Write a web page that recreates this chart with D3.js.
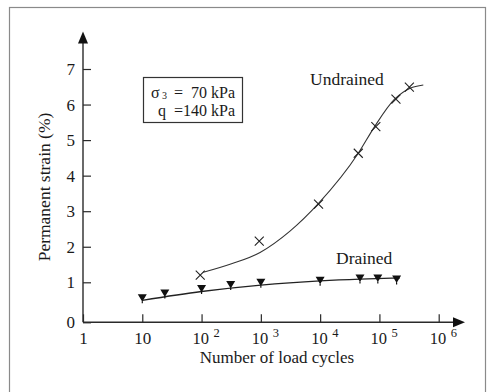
<!DOCTYPE html>
<html>
<head>
<meta charset="utf-8">
<script src="https://cdn.jsdelivr.net/npm/d3@7/dist/d3.min.js"></script>
<style>
  html, body { margin: 0; padding: 0; background: #fff; }
  svg { display: block; }
  text { font-family: "Liberation Serif", "Times New Roman", serif; fill: #1a1a1a; }
</style>
</head>
<body>
<svg id="chart" width="487" height="392"></svg>
<script>
// Permanent strain vs. number of load cycles, drained and undrained tests
const xTickValues = [1, 10, 1e2, 1e3, 1e4, 1e5, 1e6];
const xTickExponents = [null, null, 2, 3, 4, 5, 6];
const yTickValues = [0, 1, 2, 3, 4, 5, 6, 7];

// Undrained test: measured points
const undrainedCycles = [95, 940, 9400, 44000, 87000, 190000, 320000];
const undrainedStrain = [1.2, 2.16, 3.2, 4.63, 5.38, 6.15, 6.49];
// Undrained test: fitted trend
const undrainedFitCycles = [107, 320, 970, 3100, 9400, 44000, 83000, 180000, 330000, 550000];
const undrainedFitStrain = [1.28, 1.52, 1.84, 2.44, 3.22, 4.63, 5.38, 6.15, 6.46, 6.55];

// Drained test: measured points
const drainedCycles = [10, 24, 100, 310, 1000, 10000, 47000, 94000, 195000];
const drainedStrain = [0.6, 0.72, 0.83, 0.93, 0.99, 1.045, 1.11, 1.11, 1.08];
// Drained test: fitted trend
const drainedFitCycles = [10, 100, 1000, 10000, 47000, 220000];
const drainedFitStrain = [0.55, 0.77, 0.93, 1.04, 1.09, 1.12];

const svg = d3.select("#chart");

// outer frame
svg.append("rect")
  .attr("x", 9.5).attr("y", 7.5)
  .attr("width", 476).attr("height", 400)
  .attr("fill", "none").attr("stroke", "#8a8a8a").attr("stroke-width", 1.2);

const x = d3.scaleLog().domain([1, 1e6]).range([83, 438.7]);
const y = d3.scaleLinear().domain([0, 1, 7]).range([322.3, 282.3, 69]);

const axisColor = "#2a2a2a";

// y axis
const yAxis = svg.append("g")
  .attr("transform", `translate(${x(1)},0)`)
  .call(d3.axisLeft(y).tickValues(yTickValues).tickSizeInner(-8).tickSizeOuter(0).tickPadding(8).tickFormat(d3.format("d")));
yAxis.select(".domain").remove();
yAxis.selectAll(".tick line").attr("stroke", axisColor).attr("stroke-width", 1.2);
yAxis.selectAll(".tick text")
  .attr("font-size", 17).attr("font-family", "Liberation Serif").attr("fill", "#1a1a1a");

// x axis: ticks only, labels are built below so powers of ten get raised exponents
const xAxis = svg.append("g")
  .attr("transform", `translate(0,${y(0)})`)
  .call(d3.axisBottom(x).tickValues(xTickValues).tickSizeInner(-8).tickSizeOuter(0).tickPadding(0).tickFormat(() => ""));
xAxis.select(".domain").remove();
xAxis.selectAll(".tick line").attr("stroke", axisColor).attr("stroke-width", 1.2);
xAxis.selectAll(".tick text").remove();
xAxis.selectAll(".tick").each(function(d, i) {
  const g = d3.select(this);
  const e = xTickExponents[i];
  if (e === null) {
    g.append("text").attr("y", 22).attr("text-anchor", "middle")
      .attr("font-size", 17).text(d === 1 ? "1" : "10");
  } else {
    g.append("text").attr("x", -9.5).attr("y", 22).attr("text-anchor", "start")
      .attr("font-size", 16.5).text("10");
    g.append("text").attr("x", 11.5).attr("y", 15).attr("text-anchor", "start")
      .attr("font-size", 12.5).text(String(e));
  }
});

// axis lines with arrow heads
svg.append("line")
  .attr("x1", x(1)).attr("y1", y(0)).attr("x2", x(1)).attr("y2", 36)
  .attr("stroke", axisColor).attr("stroke-width", 1.4);
svg.append("path")
  .attr("d", `M${x(1)},31.5 L${x(1) - 5},43.5 L${x(1) + 5},43.5 Z`)
  .attr("fill", "#111");
svg.append("line")
  .attr("x1", x(1)).attr("y1", y(0)).attr("x2", 460).attr("y2", y(0))
  .attr("stroke", axisColor).attr("stroke-width", 1.4);
svg.append("path")
  .attr("d", `M465,${y(0)} L453,${y(0) - 5} L453,${y(0) + 5} Z`)
  .attr("fill", "#111");

// axis titles
svg.append("text")
  .attr("x", 277).attr("y", 363)
  .attr("text-anchor", "middle").attr("font-size", 17)
  .text("Number of load cycles");
svg.append("text")
  .attr("transform", "translate(50,187) rotate(-90)")
  .attr("text-anchor", "middle").attr("font-size", 17.5)
  .text("Permanent strain (%)");

// fitted curves
const line = d3.line().curve(d3.curveMonotoneX).x(d => x(d[0])).y(d => y(d[1]));
svg.append("path")
  .datum(undrainedFitCycles.map((c, i) => [c, undrainedFitStrain[i]]))
  .attr("d", line).attr("fill", "none").attr("stroke", "#333").attr("stroke-width", 1.1);
svg.append("path")
  .datum(drainedFitCycles.map((c, i) => [c, drainedFitStrain[i]]))
  .attr("d", line).attr("fill", "none").attr("stroke", "#222").attr("stroke-width", 1.3);

// undrained markers (crosses)
svg.append("g").selectAll("path")
  .data(undrainedCycles.map((c, i) => [c, undrainedStrain[i]]))
  .join("path")
  .attr("transform", d => `translate(${x(d[0])},${y(d[1])})`)
  .attr("d", "M-4.5,-4.5 L4.5,4.5 M-4.5,4.5 L4.5,-4.5")
  .attr("stroke", "#222").attr("stroke-width", 1.1).attr("fill", "none");

// drained markers (downward triangles)
svg.append("g").selectAll("path")
  .data(drainedCycles.map((c, i) => [c, drainedStrain[i]]))
  .join("path")
  .attr("transform", d => `translate(${x(d[0])},${y(d[1])})`)
  .attr("d", "M-4.5,-4 L4.5,-4 L0,3.5 Z M-0.6,3 L0.6,3 L0.6,5 L-0.6,5 Z")
  .attr("fill", "#111");

// series labels
svg.append("text").attr("x", 310).attr("y", 85).attr("font-size", 17.5).text("Undrained");
svg.append("text").attr("x", 336).attr("y", 263.5).attr("font-size", 17.5).text("Drained");

// test conditions box
svg.append("rect")
  .attr("x", 143.5).attr("y", 77.5).attr("width", 99).attr("height", 45)
  .attr("fill", "#fff").attr("stroke", "#333").attr("stroke-width", 1.2);
svg.append("text").attr("x", 151).attr("y", 98).attr("font-size", 16).text("σ");
svg.append("text").attr("x", 162).attr("y", 99).attr("font-size", 10).text("3");
svg.append("text").attr("x", 235).attr("y", 98).attr("text-anchor", "end").attr("font-size", 16)
  .attr("xml:space", "preserve").text("=  70 kPa");
svg.append("text").attr("x", 235).attr("y", 115.5).attr("text-anchor", "end").attr("font-size", 16)
  .attr("xml:space", "preserve").text("q  =140 kPa");
</script>
</body>
</html>
